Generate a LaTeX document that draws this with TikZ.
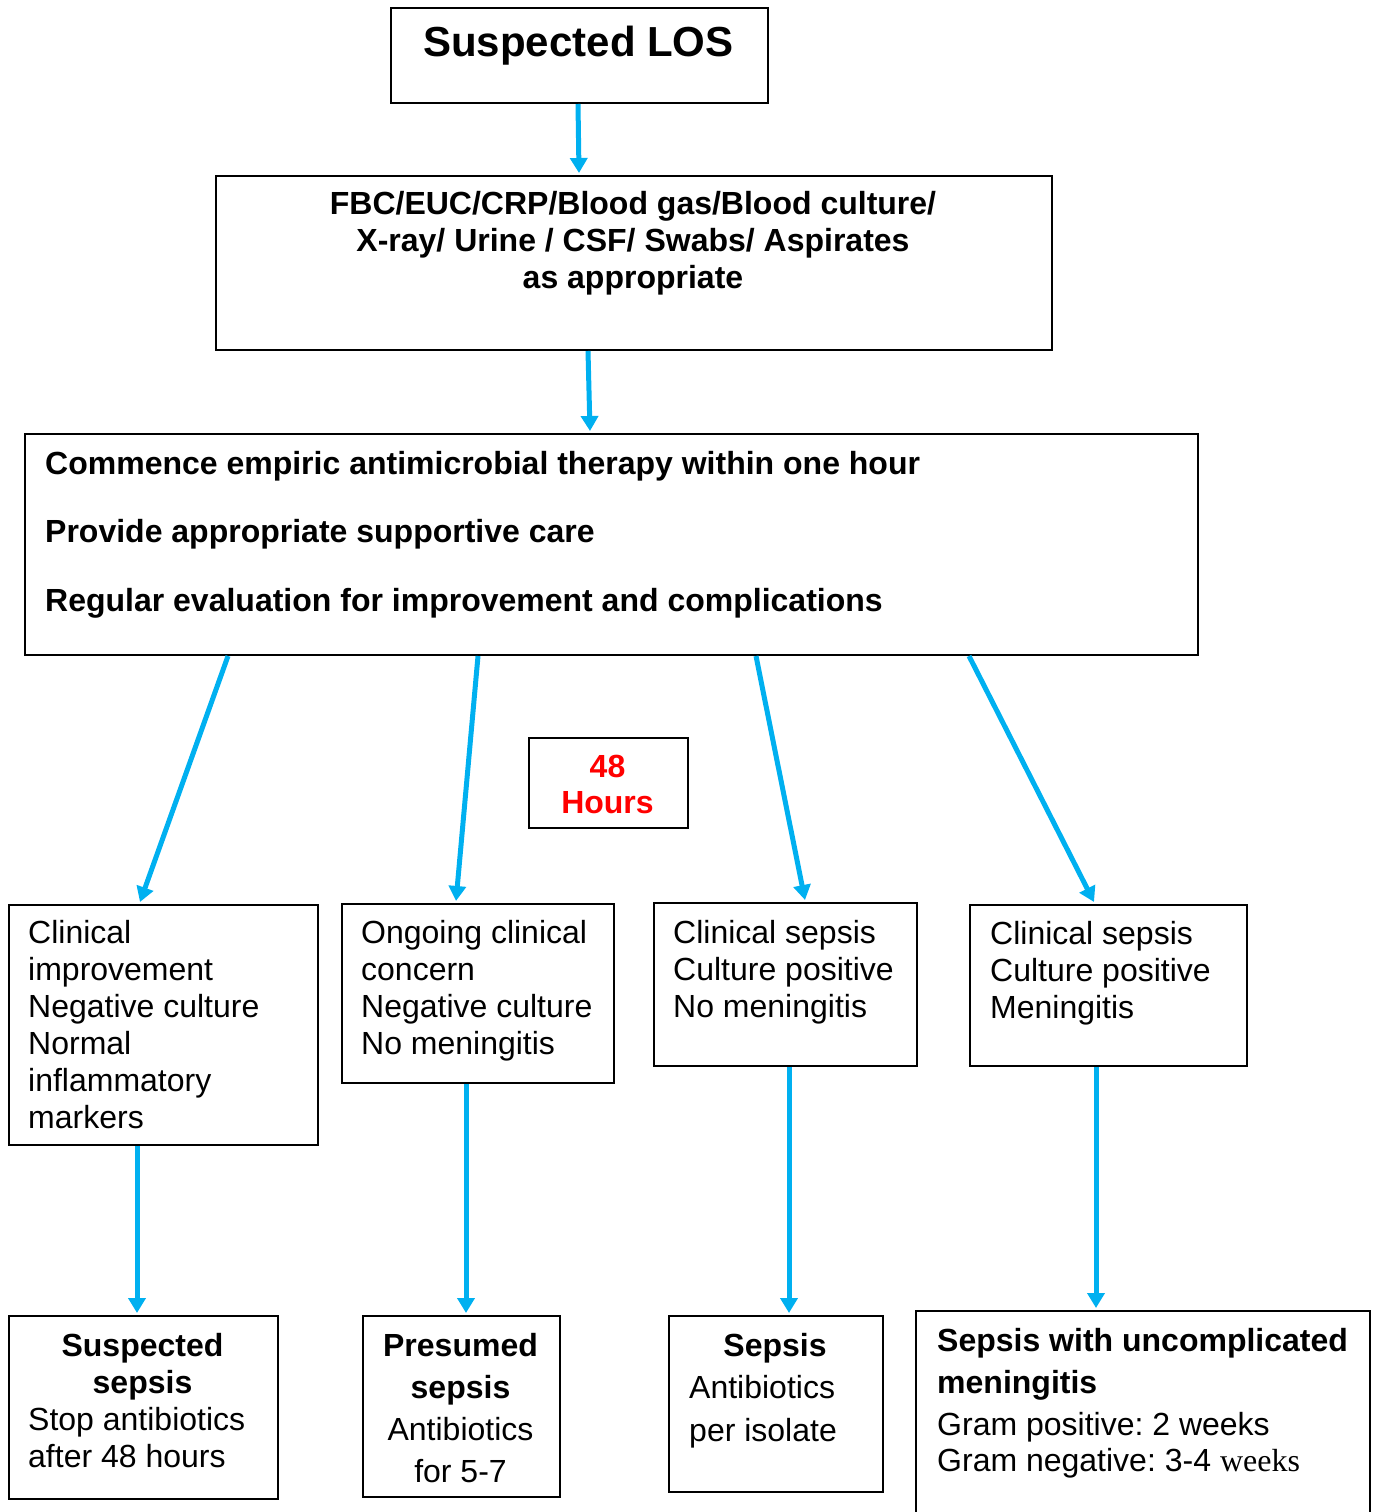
\documentclass[tikz,border=0pt]{standalone}
\usepackage{fontspec}
\setmainfont{Liberation Sans}
\newfontfamily\serifw{Liberation Serif}
\usetikzlibrary{arrows.meta}
\definecolor{arrblue}{HTML}{00B0F0}
\definecolor{hred}{HTML}{FF0000}
\frenchspacing
\begin{document}
\begin{tikzpicture}[x=1pt,y=-1pt,
  box/.style={draw=black, line width=2pt, inner sep=0pt, anchor=north west},
  arr/.style={draw=arrblue, line width=5pt, -{Triangle[width=17pt,length=15pt]}},
  txt/.style={inner sep=0pt, align=left, anchor=north west, font=\fontsize{32}{37}\selectfont},
  btxt/.style={inner sep=0pt, align=left, anchor=north west, font=\fontsize{32}{37}\selectfont\bfseries},
]
\useasboundingbox (0,0) rectangle (1375,1512);
% boxes
\node[box, minimum width=377pt, minimum height=95pt]  (los)  at (390,7) {};
\node[box, minimum width=836pt, minimum height=174pt] (fbc)  at (215,175) {};
\node[box, minimum width=1173pt, minimum height=221pt] (care) at (24,433) {};
\node[box, minimum width=159pt, minimum height=90pt]  (h48)  at (528,737) {};
\node[box, minimum width=309pt, minimum height=240pt] (ca)   at (8,904) {};
\node[box, minimum width=272pt, minimum height=179pt] (cb)   at (341,903) {};
\node[box, minimum width=263pt, minimum height=163pt] (cc)   at (653,902) {};
\node[box, minimum width=277pt, minimum height=161pt] (cd)   at (969,904) {};
\node[box, minimum width=269pt, minimum height=183pt] (oa)   at (8,1315) {};
\node[box, minimum width=197pt, minimum height=181pt] (ob)   at (362,1315) {};
\node[box, minimum width=214pt, minimum height=176pt] (oc)   at (668,1315) {};
\node[box, minimum width=454pt, minimum height=215pt] (od)   at (915,1310) {};
% texts
\node[inner sep=0pt, anchor=north, font=\fontsize{42}{48}\selectfont\bfseries] (tlos) at (578.5,26) {Suspected LOS};
\node[btxt, anchor=north, align=center] (tfbc) at (633,191) {FBC/EUC/CRP/Blood gas/Blood culture/\\X-ray/ Urine / CSF/ Swabs/ Aspirates\\as appropriate};
\node[btxt, font=\fontsize{32}{68.5}\selectfont\bfseries] (tcare) at (45,451) {Commence empiric antimicrobial therapy within one hour\\Provide appropriate supportive care\\Regular evaluation for improvement and complications};
\node[btxt, anchor=north, align=center, text=hred, font=\fontsize{32}{36}\selectfont\bfseries] (th48) at (607.5,755) {48\\Hours};
\node[txt] (tca) at (28,920) {Clinical\\improvement\\Negative culture\\Normal\\inflammatory\\markers};
\node[txt] (tcb) at (361,920) {Ongoing clinical\\concern\\Negative culture\\No meningitis};
\node[txt] (tcc) at (673,920) {Clinical sepsis\\Culture positive\\No meningitis};
\node[txt] (tcd) at (990,921) {Clinical sepsis\\Culture positive\\Meningitis};
\node[btxt, anchor=north, align=center] (toa1) at (142.5,1333) {Suspected\\sepsis};
\node[txt] (toa2) at (28,1407) {Stop antibiotics\\after 48 hours};
\node[txt, anchor=north, align=center, font=\fontsize{32}{42}\selectfont] (tob) at (460.5,1333) {\textbf{Presumed}\\\textbf{sepsis}\\Antibiotics\\for 5-7};
\node[btxt, anchor=north] (toc1) at (775,1333) {Sepsis};
\node[txt, font=\fontsize{32}{43}\selectfont] (toc2) at (689,1375) {Antibiotics\\per isolate};
\node[txt, font=\fontsize{32}{42}\selectfont] (tod) at (937,1328) {\textbf{Sepsis with uncomplicated}\\\textbf{meningitis}\\Gram positive: 2 weeks\\[-6pt]Gram negative: 3-4 {\serifw weeks}};
% arrows
\draw[arr] ([xshift=188pt]los.south west) -- ([xshift=364pt,yshift=2pt]fbc.north west);
\draw[arr] ([xshift=373pt]fbc.south west) -- ([xshift=566pt,yshift=2pt]care.north west);
\draw[arr] ([xshift=204pt]care.south west) -- ([xshift=132pt,yshift=2pt]ca.north west);
\draw[arr] ([xshift=454pt]care.south west) -- ([xshift=115pt,yshift=2pt]cb.north west);
\draw[arr] ([xshift=732pt]care.south west) -- ([xshift=152pt,yshift=2pt]cc.north west);
\draw[arr] ([xshift=945pt]care.south west) -- ([xshift=125pt,yshift=2pt]cd.north west);
\draw[arr] ([xshift=129pt]ca.south west) -- ([xshift=129pt,yshift=2pt]oa.north west);
\draw[arr] ([xshift=125pt]cb.south west) -- ([xshift=104pt,yshift=2pt]ob.north west);
\draw[arr] ([xshift=136pt]cc.south west) -- ([xshift=121pt,yshift=2pt]oc.north west);
\draw[arr] ([xshift=127pt]cd.south west) -- ([xshift=181pt,yshift=2pt]od.north west);
\end{tikzpicture}
\end{document}
